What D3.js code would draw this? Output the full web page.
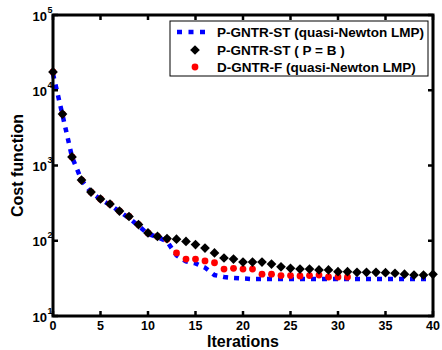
<!DOCTYPE html>
<html>
<head>
<meta charset="utf-8">
<script src="https://cdn.jsdelivr.net/npm/d3@7"></script>
<style>
  body { margin: 0; background: #fff; }
  text { font-family: "Liberation Sans", Arial, sans-serif; font-weight: bold; fill: #000; }
</style>
</head>
<body>
<div id="chart"></div>
<script>
// iterations 0..40
const iterations = d3.range(0, 41);

// P-GNTR-ST (quasi-Newton LMP), blue dotted line
const blueSeries = [16500, 4700, 1300, 640, 440, 355, 300, 245, 200, 158, 123, 112, 98, 64, 53, 50, 44, 35, 33, 32,
  31.5, 31, 31, 31, 31, 31, 31, 31, 31, 31, 31, 31, 31, 31, 31, 31, 31, 31, 31, 31, 31];

// P-GNTR-ST ( P = B ), black diamonds
const blackSeries = [17500, 4830, 1300, 641, 444, 359, 308, 248, 210, 164, 127, 114, 107, 105, 98, 89, 80, 69, 59, 57,
  52, 52, 52, 49, 45, 43, 42, 42, 41, 41, 38.8, 38.8, 38, 38, 38, 37.6, 37, 36, 35, 35, 35.8];

// D-GNTR-F (quasi-Newton LMP), red dots (iterations 0..31)
const redSeries = [17500, 4830, 1300, 641, 444, 359, 308, 248, 210, 164, 127, 114, 105, 69, 57, 57, 54, 51, 42, 43,
  42, 42, 36, 36, 34.5, 34.5, 34, 34.5, 35, 33, 33, 33];

const xTicks = [0, 5, 10, 15, 20, 25, 30, 35, 40];
const yTicks = [1e1, 1e2, 1e3, 1e4, 1e5];
const legendLabels = ['P-GNTR-ST (quasi-Newton LMP)', 'P-GNTR-ST ( P = B )', 'D-GNTR-F (quasi-Newton LMP)'];

const width = 442, height = 350;
const plot = { left: 53, right: 433, top: 15, bottom: 316 };

const svg = d3.select('#chart').append('svg')
  .attr('width', width).attr('height', height);

const x = d3.scaleLinear().domain([0, 40]).range([plot.left, plot.right]);
const y = d3.scaleLog().domain([10, 1e5]).range([plot.bottom, plot.top]);

// blue dotted line
const line = d3.line()
  .x(d => x(d[0]))
  .y(d => y(d[1]));

svg.append('path')
  .datum(iterations.map((it, i) => [it, blueSeries[i]]))
  .attr('fill', 'none')
  .attr('stroke', '#0000ff')
  .attr('stroke-width', 4.5)
  .attr('stroke-dasharray', '5,6')
  .attr('d', line);

// red dots
svg.selectAll('.red')
  .data(redSeries)
  .enter().append('circle')
  .attr('class', 'red')
  .attr('cx', (d, i) => x(i))
  .attr('cy', d => y(d))
  .attr('r', 3.4)
  .attr('fill', '#ff0000');

// black diamonds
const diamond = d3.symbol().type(d3.symbolDiamond2).size(60);
svg.selectAll('.black')
  .data(blackSeries)
  .enter().append('path')
  .attr('class', 'black')
  .attr('transform', (d, i) => `translate(${x(i)},${y(d)})`)
  .attr('d', diamond)
  .attr('fill', '#000');

// frame
svg.append('rect')
  .attr('x', plot.left).attr('y', plot.top)
  .attr('width', plot.right - plot.left)
  .attr('height', plot.bottom - plot.top)
  .attr('fill', 'none')
  .attr('stroke', '#000')
  .attr('stroke-width', 3);

// ticks (inward, also on top / right)
const tickLen = 5;
xTicks.forEach(t => {
  svg.append('line').attr('x1', x(t)).attr('x2', x(t))
    .attr('y1', plot.bottom).attr('y2', plot.bottom - tickLen)
    .attr('stroke', '#000').attr('stroke-width', 2.5);
  svg.append('line').attr('x1', x(t)).attr('x2', x(t))
    .attr('y1', plot.top).attr('y2', plot.top + tickLen)
    .attr('stroke', '#000').attr('stroke-width', 2.5);
  svg.append('text')
    .attr('x', x(t)).attr('y', 330)
    .attr('text-anchor', 'middle')
    .attr('font-size', '12.5px')
    .text(t);
});

yTicks.forEach(t => {
  svg.append('line').attr('x1', plot.left).attr('x2', plot.left + tickLen)
    .attr('y1', y(t)).attr('y2', y(t))
    .attr('stroke', '#000').attr('stroke-width', 2.5);
  svg.append('line').attr('x1', plot.right).attr('x2', plot.right - tickLen)
    .attr('y1', y(t)).attr('y2', y(t))
    .attr('stroke', '#000').attr('stroke-width', 2.5);
  svg.append('text')
    .attr('x', 47).attr('y', y(t) + 5.5)
    .attr('text-anchor', 'end')
    .attr('font-size', '13px')
    .text('10');
  svg.append('text')
    .attr('x', 47.5).attr('y', y(t) - 2.5)
    .attr('font-size', '9px')
    .attr('font-weight', 'normal')
    .text(Math.round(Math.log10(t)));
});

// axis titles
svg.append('text')
  .attr('x', (plot.left + plot.right) / 2).attr('y', 347)
  .attr('text-anchor', 'middle')
  .attr('font-size', '16px')
  .text('Iterations');

svg.append('text')
  .attr('transform', `translate(23,${(plot.top + plot.bottom) / 2}) rotate(-90)`)
  .attr('text-anchor', 'middle')
  .attr('font-size', '16px')
  .text('Cost function');

// legend
const legend = svg.append('g');
legend.append('rect')
  .attr('x', 170).attr('y', 21)
  .attr('width', 258).attr('height', 55)
  .attr('fill', '#fff')
  .attr('stroke', '#000')
  .attr('stroke-width', 1);

const rowY = [32, 50, 67];
legend.append('line')
  .attr('x1', 177).attr('x2', 211)
  .attr('y1', rowY[0]).attr('y2', rowY[0])
  .attr('stroke', '#0000ff')
  .attr('stroke-width', 4.5)
  .attr('stroke-dasharray', '5,6.5');
legend.append('path')
  .attr('transform', `translate(195,${rowY[1]})`)
  .attr('d', diamond)
  .attr('fill', '#000');
legend.append('circle')
  .attr('cx', 195).attr('cy', rowY[2])
  .attr('r', 3.4)
  .attr('fill', '#ff0000');

legend.selectAll('.lab')
  .data(legendLabels)
  .enter().append('text')
  .attr('class', 'lab')
  .attr('x', 217)
  .attr('y', (d, i) => rowY[i] + 5)
  .attr('font-size', '13.5px')
  .text(d => d);
</script>
</body>
</html>
